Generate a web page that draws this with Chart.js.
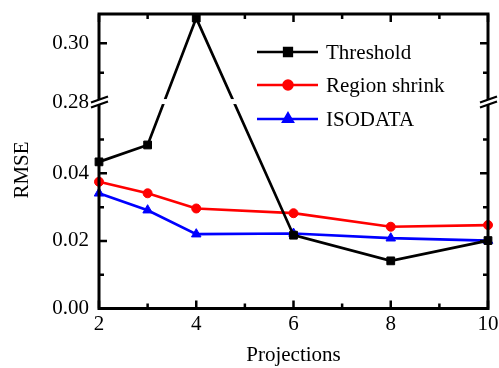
<!DOCTYPE html>
<html>
<head>
<meta charset="utf-8">
<script src="https://cdn.jsdelivr.net/npm/chart.js@4.4.1/dist/chart.umd.min.js"></script>
<style>
  html, body { margin: 0; padding: 0; background: #fff; }
  #wrap { width: 499px; height: 368px; }
</style>
</head>
<body>
<div id="wrap"><canvas id="chart" width="499" height="368"></canvas></div>
<script>
const projections = [2, 3, 4, 6, 8, 10];
const thresholdRmse = [0.0434, 0.0484, 0.3086, 0.0217, 0.0141, 0.0201];
const regionShrinkRmse = [0.0375, 0.0341, 0.0296, 0.0282, 0.0242, 0.0247];
const isodataRmse = [0.0341, 0.0291, 0.0220, 0.0222, 0.0208, 0.0201];

const xTicks = [2, 4, 6, 8, 10];
const xMinorTicks = [3, 5, 7, 9];
const yTicks = [0, 0.02, 0.04, 0.28, 0.30];
const yMinorTicks = [0.01, 0.03, 0.05, 0.29];

// broken y axis: 0 .. lowerTop below the break, upperBottom .. max above it
const lowerTop = 0.0611;
const upperBottom = 0.28;
const breakFrac = 0.701;

const serif = "'Liberation Serif', 'Times New Roman', serif";
const fontSize = 21;

class BrokenScale extends Chart.LinearScale {
    getPixelForValue(v) {
        let d;
        if (v <= lowerTop) d = (v - this.min) / (lowerTop - this.min) * breakFrac;
        else d = breakFrac + (v - upperBottom) / (this.max - upperBottom) * (1 - breakFrac);
        return this.getPixelForDecimal(d);
    }
    getValueForPixel(p) {
        const d = this.getDecimalForPixel(p);
        if (d <= breakFrac) return this.min + d / breakFrac * (lowerTop - this.min);
        return upperBottom + (d - breakFrac) / (1 - breakFrac) * (this.max - upperBottom);
    }
}
BrokenScale.id = 'broken';
BrokenScale.defaults = Chart.LinearScale.defaults;
Chart.register(BrokenScale);

function toPoints(values) {
    return values.map((v, i) => ({ x: projections[i], y: v }));
}

const framePlugin = {
    id: 'frame',
    afterDatasetsDraw(chart) {
        const { ctx, chartArea: a, scales: { x, y } } = chart;
        const by = y.getPixelForDecimal(breakFrac);
        ctx.save();

        // gap in the plotted lines at the break
        ctx.fillStyle = '#fff';
        ctx.fillRect(a.left + 2, by - 3, a.right - a.left - 4, 5);

        // box
        ctx.strokeStyle = '#000';
        ctx.lineWidth = 3;
        ctx.strokeRect(a.left, a.top, a.right - a.left, a.bottom - a.top);

        // inward ticks on all four sides
        ctx.lineWidth = 2.5;
        ctx.beginPath();
        const xt = (vals, len) => vals.forEach(v => {
            const px = x.getPixelForValue(v);
            ctx.moveTo(px, a.bottom); ctx.lineTo(px, a.bottom - len);
            ctx.moveTo(px, a.top); ctx.lineTo(px, a.top + len);
        });
        const yt = (vals, len) => vals.forEach(v => {
            const py = y.getPixelForValue(v);
            ctx.moveTo(a.left, py); ctx.lineTo(a.left + len, py);
            ctx.moveTo(a.right, py); ctx.lineTo(a.right - len, py);
        });
        xt(xTicks, 8); xt(xMinorTicks, 5);
        yt(yTicks.filter(v => v !== upperBottom), 8); yt(yMinorTicks, 5);
        ctx.stroke();

        // break marks on both vertical axes
        [a.left, a.right].forEach(ax => {
            ctx.fillStyle = '#fff';
            ctx.beginPath();
            ctx.moveTo(ax - 8, by + 0.5);
            ctx.lineTo(ax + 9, by - 5.5);
            ctx.lineTo(ax + 9, by - 0.5);
            ctx.lineTo(ax - 8, by + 5.5);
            ctx.closePath();
            ctx.fill();
            ctx.lineWidth = 2.2;
            ctx.beginPath();
            ctx.moveTo(ax - 8, by + 0.5); ctx.lineTo(ax + 9, by - 5.5);
            ctx.moveTo(ax - 8, by + 5.5); ctx.lineTo(ax + 9, by - 0.5);
            ctx.stroke();
        });

        // y title
        ctx.fillStyle = '#000';
        ctx.font = fontSize + 'px ' + serif;
        ctx.textAlign = 'center';
        ctx.textBaseline = 'middle';
        ctx.translate(22, 170);
        ctx.rotate(-Math.PI / 2);
        ctx.fillText('RMSE', 0, 0);
        ctx.restore();

        // legend
        ctx.save();
        const rows = [52, 85, 119];
        chart.data.datasets.forEach((ds, i) => {
            const ly = rows[i];
            ctx.strokeStyle = ds.borderColor;
            ctx.lineWidth = 2.5;
            ctx.beginPath();
            ctx.moveTo(257, ly); ctx.lineTo(318, ly);
            ctx.stroke();
            ctx.fillStyle = ds.borderColor;
            Chart.helpers.drawPoint(ctx, {
                pointStyle: ds.pointStyle, radius: ds.pointRadius, borderWidth: 1
            }, 288, ly);
            ctx.fillStyle = '#000';
            ctx.font = fontSize + 'px ' + serif;
            ctx.textAlign = 'left';
            ctx.textBaseline = 'middle';
            ctx.fillText(ds.label, 326, ly + 1);
        });
        ctx.restore();
    }
};

const lineStyle = (color, pointStyle, radius) => ({
    borderColor: color,
    backgroundColor: color,
    pointBackgroundColor: color,
    pointBorderColor: color,
    pointStyle: pointStyle,
    pointRadius: radius,
    pointBorderWidth: 1,
    borderWidth: 2.7,
    fill: false,
    tension: 0,
    clip: false
});

new Chart(document.getElementById('chart'), {
    type: 'line',
    data: {
        datasets: [
            { label: 'Threshold', data: toPoints(thresholdRmse), ...lineStyle('#000000', 'rect', 5.5) },
            { label: 'Region shrink', data: toPoints(regionShrinkRmse), ...lineStyle('#ff0000', 'circle', 4.5) },
            { label: 'ISODATA', data: toPoints(isodataRmse), ...lineStyle('#0000ff', 'triangle', 5.5) }
        ]
    },
    options: {
        responsive: false,
        animation: false,
        layout: { padding: { left: 0, top: 14, right: 11, bottom: 0 } },
        plugins: { legend: { display: false }, tooltip: { enabled: false } },
        scales: {
            x: {
                type: 'linear',
                min: 2,
                max: 10,
                grid: { display: false, drawTicks: false },
                border: { display: false },
                afterBuildTicks: s => { s.ticks = xTicks.map(v => ({ value: v })); },
                afterFit: s => { s.height = 59.5; s.paddingLeft = 0; s.paddingRight = 0; },
                ticks: { color: '#000', font: { family: serif, size: fontSize }, padding: 3, autoSkip: false, maxRotation: 0 },
                title: { display: true, text: 'Projections', color: '#000', font: { family: serif, size: fontSize }, padding: { top: 0, bottom: 0 } }
            },
            y: {
                type: 'broken',
                min: 0,
                max: 0.31,
                grid: { display: false, drawTicks: false },
                border: { display: false },
                afterBuildTicks: s => { s.ticks = yTicks.map(v => ({ value: v })); },
                afterFit: s => { s.width = 99; s.paddingTop = 0; s.paddingBottom = 0; },
                ticks: {
                    color: '#000', font: { family: serif, size: fontSize }, padding: 10, autoSkip: false,
                    callback: v => v.toFixed(2)
                }
            }
        }
    },
    plugins: [framePlugin]
});
</script>
</body>
</html>
